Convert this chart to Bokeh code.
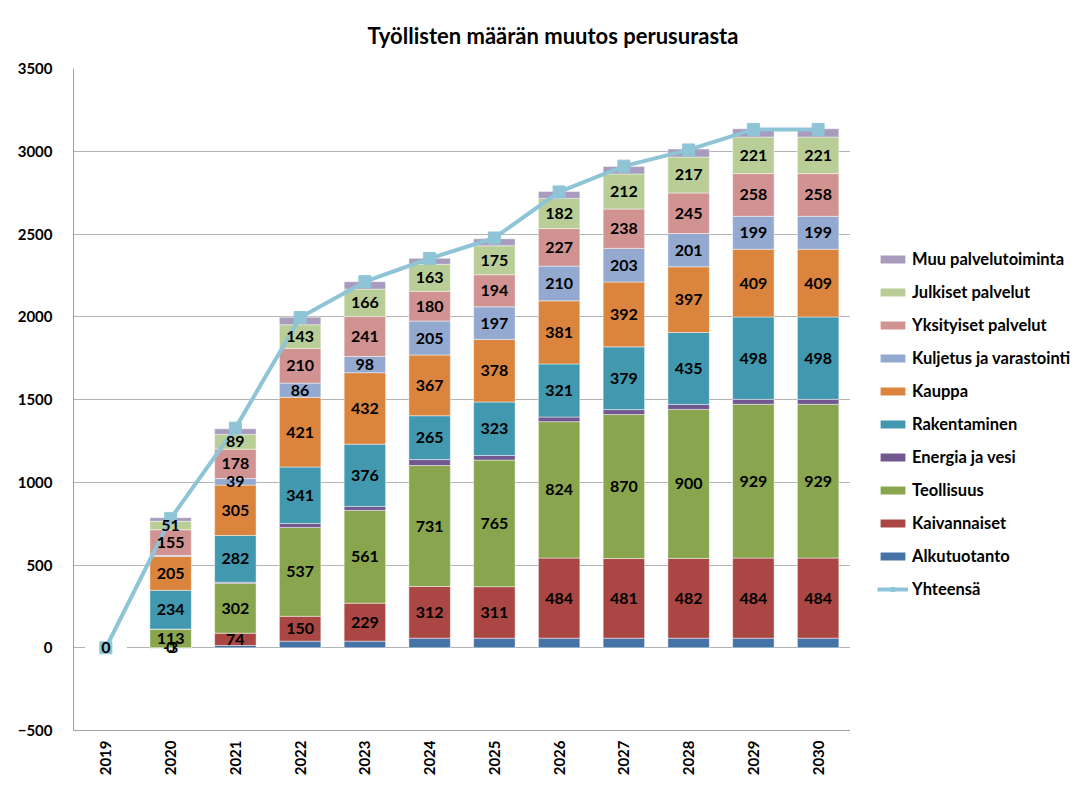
import math
from bokeh.plotting import figure
from bokeh.layouts import row
from bokeh.models import (Range1d, FactorRange, FixedTicker, Legend, LegendItem,
                          ColumnDataSource, LabelSet)
from bokeh.core.properties import value
from bokeh.embed import file_html
from bokeh.resources import INLINE

# ---------------- data ----------------
years = ["2019", "2020", "2021", "2022", "2023", "2024",
         "2025", "2026", "2027", "2028", "2029", "2030"]

alkutuotanto = [0, -3, 14, 40, 40, 58, 58, 58, 58, 58, 58, 58]
kaivannaiset = [0, 0, 74, 150, 229, 312, 311, 484, 481, 482, 484, 484]
teollisuus = [0, 113, 302, 537, 561, 731, 765, 824, 870, 900, 929, 929]
energia_ja_vesi = [0, 0, 6, 24, 24, 36, 28, 28, 30, 30, 30, 30]
rakentaminen = [0, 234, 282, 341, 376, 265, 323, 321, 379, 435, 498, 498]
kauppa = [0, 205, 305, 421, 432, 367, 378, 381, 392, 397, 409, 409]
kuljetus = [0, 6, 39, 86, 98, 205, 197, 210, 203, 201, 199, 199]
yksityiset = [0, 155, 178, 210, 241, 180, 194, 227, 238, 245, 258, 258]
julkiset = [0, 51, 89, 143, 166, 163, 175, 182, 212, 217, 221, 221]
muu = [0, 22, 34, 45, 45, 36, 42, 42, 45, 48, 50, 50]
yhteensa = [0, 780, 1327, 1995, 2212, 2352, 2476, 2754, 2910, 3008, 3132, 3132]

series_names = ["Alkutuotanto", "Kaivannaiset", "Teollisuus", "Energia ja vesi",
                "Rakentaminen", "Kauppa", "Kuljetus ja varastointi",
                "Yksityiset palvelut", "Julkiset palvelut", "Muu palvelutoiminta"]
series_values = [alkutuotanto, kaivannaiset, teollisuus, energia_ja_vesi,
                 rakentaminen, kauppa, kuljetus, yksityiset, julkiset, muu]
series_colors = ["#4572A7", "#AA4643", "#89A54E", "#71588F", "#4198AF",
                 "#DB843D", "#93A9CF", "#D19392", "#B9CD96", "#A99BBD"]
unlabelled = ("Alkutuotanto", "Energia ja vesi", "Muu palvelutoiminta")
line_color = "#8EC4D6"

FONT = "Lato"

# ---------------- main figure ----------------
p = figure(width=850, height=778, output_backend="svg", toolbar_location=None,
           x_range=FactorRange(factors=years, range_padding=0),
           y_range=Range1d(-500, 3500),
           min_border_left=73, min_border_right=0,
           min_border_top=66, min_border_bottom=44)

p.title.text = "Työllisten määrän muutos perusurasta"
p.title.align = "left"
p.title.offset = 294
p.title.standoff = 39
p.title.text_font = FONT
p.title.text_font_size = "22px"
p.title.text_font_style = "bold"
p.title.text_color = "black"

p.outline_line_color = None
p.background_fill_color = "white"
p.border_fill_color = "white"

p.xgrid.visible = False
p.ygrid.grid_line_color = "#b3b3b3"
p.ygrid.grid_line_width = 1

p.yaxis.ticker = FixedTicker(ticks=list(range(-500, 3501, 500)))
for ax in (p.xaxis, p.yaxis):
    ax.axis_line_color = "#a0a0a0"
    ax.axis_line_width = 1
    ax.major_tick_line_color = None
    ax.minor_tick_line_color = None
    ax.major_label_text_font = FONT
    ax.major_label_text_font_style = "bold"
    ax.major_label_text_color = "black"
p.yaxis.major_label_text_font_size = "15px"
p.yaxis.major_label_standoff = 15
p.xaxis.major_label_text_font_size = "15px"
p.xaxis.major_label_orientation = math.pi / 2
p.xaxis.major_label_standoff = 4

# ---------------- stacked bars ----------------
pos = [0.0] * len(years)
neg = [0.0] * len(years)
bar_sources = {}
lab_x, lab_y, lab_t = [], [], []
for name, vals, col in zip(series_names, series_values, series_colors):
    bottoms, tops = [], []
    for i, v in enumerate(vals):
        if v >= 0:
            b = pos[i]
            pos[i] += v
        else:
            b = neg[i]
            neg[i] += v
        bottoms.append(b)
        tops.append(b + v)
        show = abs(v) >= 35 and name not in unlabelled
        if years[i] == "2019" and name == "Kaivannaiset":
            show = True
        if years[i] == "2020" and name in ("Alkutuotanto", "Kaivannaiset"):
            show = True
        if show:
            lab_x.append(years[i])
            lab_y.append(b + v / 2.0)
            lab_t.append(str(v))
    src = ColumnDataSource(dict(x=years, bottom=bottoms, top=tops))
    p.vbar(x="x", bottom="bottom", top="top", width=0.64, source=src,
           fill_color=col, line_color="white", line_alpha=0.45, line_width=1)
    bar_sources[name] = src

# ---------------- total line ----------------
lsrc = ColumnDataSource(dict(x=years, y=yhteensa))
p.line(x="x", y="y", source=lsrc, line_color=line_color, line_width=4)
p.scatter(x="x", y="y", source=lsrc, marker="square", size=12,
          fill_color=line_color, line_color=line_color)

# ---------------- data labels ----------------
labsrc = ColumnDataSource(dict(x=lab_x, y=lab_y, t=lab_t))
labels = LabelSet(x="x", y="y", text="t", source=labsrc,
                  text_align="center", text_baseline="middle",
                  text_font=value(FONT), text_font_style="bold",
                  text_font_size="16px", text_color="black")
p.add_layout(labels)

# ---------------- legend panel (same data, view range kept off the data) ----
q = figure(width=225, height=778, output_backend="svg", toolbar_location=None,
           x_range=FactorRange(factors=years, range_padding=0),
           y_range=Range1d(20000, 21000),
           x_axis_type=None, y_axis_type=None, min_border=0)
q.outline_line_color = None
q.xgrid.visible = False
q.ygrid.visible = False
q.background_fill_color = "white"
q.border_fill_color = "white"

items = []
for name, col in reversed(list(zip(series_names, series_colors))):
    rr = q.vbar(x="x", bottom="bottom", top="top", width=0.0001,
                source=bar_sources[name],
                fill_color=col, line_color=None)
    items.append(LegendItem(label=name, renderers=[rr]))
ql = q.line(x="x", y="y", source=lsrc, line_color=line_color, line_width=4)
qm = q.scatter(x="x", y="y", source=lsrc, marker="square", size=10,
               fill_color=line_color, line_color=line_color)
items.append(LegendItem(label="Yhteensä", renderers=[ql, qm]))

legend = Legend(items=items, location=(27, 130), orientation="vertical",
                glyph_width=31, glyph_height=10, label_height=22,
                spacing=11, padding=0, margin=0, label_standoff=4,
                label_text_font=FONT, label_text_font_style="bold",
                label_text_font_size="16.5px", label_text_color="black",
                border_line_color=None, background_fill_alpha=0)
q.add_layout(legend, "center")

layout = row(p, q, spacing=0)
open("out.html", "w").write(file_html(layout, INLINE))
